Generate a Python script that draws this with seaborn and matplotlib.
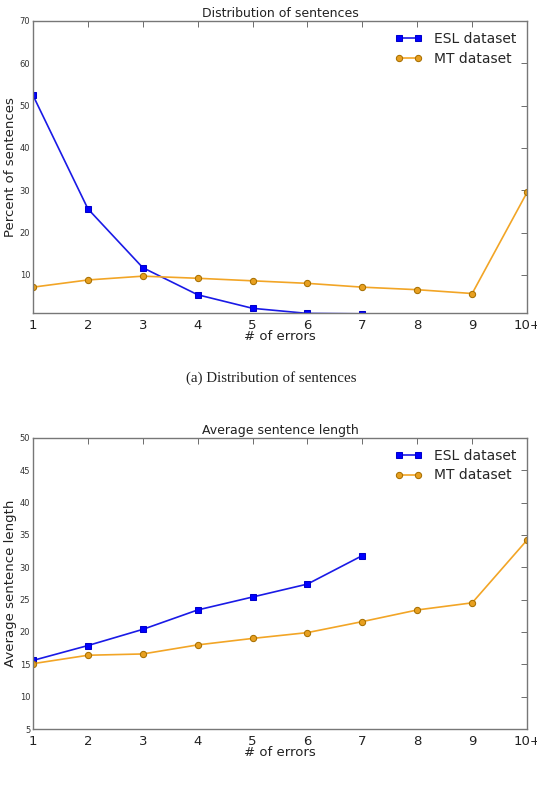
import matplotlib
matplotlib.use("Agg")
import matplotlib.pyplot as plt
import seaborn as sns
import pandas as pd

# -----------------------------
# data
# -----------------------------
error_labels = ["1", "2", "3", "4", "5", "6", "7", "8", "9", "10+"]
error_pos = list(range(1, 11))

# percent of sentences per number of errors
dist_esl = [52.4, 25.6, 11.7, 5.3, 2.1, 0.9, 0.8]
dist_mt = [7.1, 8.8, 9.7, 9.2, 8.6, 8.0, 7.1, 6.5, 5.6, 29.5]

# average sentence length per number of errors
len_esl = [15.6, 17.9, 20.4, 23.4, 25.4, 27.4, 31.8]
len_mt = [15.1, 16.4, 16.6, 18.0, 19.0, 19.9, 21.6, 23.4, 24.5, 34.2]

BLUE = "#1a1ae6"
ORANGE = "#f2a526"

sns.set_style("white")
plt.rcParams["font.family"] = ["DejaVu Sans"]

fig = plt.figure(figsize=(5.37, 7.85), dpi=100)
ax_top = fig.add_axes([0.0615, 0.6013, 0.920, 0.372])
ax_bot = fig.add_axes([0.0615, 0.0713, 0.920, 0.371])


def draw(ax, esl, mt, title, ylabel, ylim, yticks):
    df_esl = pd.DataFrame({"x": error_pos[:len(esl)], "y": esl})
    df_mt = pd.DataFrame({"x": error_pos[:len(mt)], "y": mt})
    sns.lineplot(data=df_esl, x="x", y="y", ax=ax, color=BLUE, lw=1.2,
                 marker="s", markersize=4.5, markerfacecolor="#0000ff",
                 markeredgecolor="#0000cc", label="ESL dataset")
    sns.lineplot(data=df_mt, x="x", y="y", ax=ax, color=ORANGE, lw=1.2,
                 marker="o", markersize=4.5, markerfacecolor="#e8a020",
                 markeredgecolor="#a87000", label="MT dataset")
    ax.set_xlim(1, 10)
    ax.set_ylim(*ylim)
    ax.set_xticks(error_pos)
    ax.set_xticklabels(error_labels, fontsize=9.5, color="#222222")
    ax.set_yticks(yticks)
    ax.set_yticklabels([str(t) for t in yticks], fontsize=6, color="#333333")
    ax.tick_params(direction="in", top=True, right=True, length=4,
                   width=0.6, color="#555555", pad=2)
    ax.tick_params(axis="x", pad=4)
    for s in ax.spines.values():
        s.set_color("#777777")
        s.set_linewidth(1.0)
    ax.set_title(title, fontsize=9, color="#222222", pad=3)
    ax.set_xlabel("# of errors", fontsize=9.5, color="#222222", labelpad=-1)
    ax.set_ylabel(ylabel, fontsize=9.5, color="#222222", labelpad=2)
    ax.legend(loc="upper right", frameon=False, fontsize=10, numpoints=2,
              handlelength=2.0, borderaxespad=0.4, labelspacing=0.4)


draw(ax_top, dist_esl, dist_mt, "Distribution of sentences",
     "Percent of sentences", (1, 70), [10, 20, 30, 40, 50, 60, 70])
draw(ax_bot, len_esl, len_mt, "Average sentence length",
     "Average sentence length", (5, 50), [5, 10, 15, 20, 25, 30, 35, 40, 45, 50])

fig.text(0.506, 0.518, "(a) Distribution of sentences", ha="center",
         va="center", fontsize=10.8, family="Liberation Serif", color="#222222")

fig.savefig("out.png", dpi=100)
